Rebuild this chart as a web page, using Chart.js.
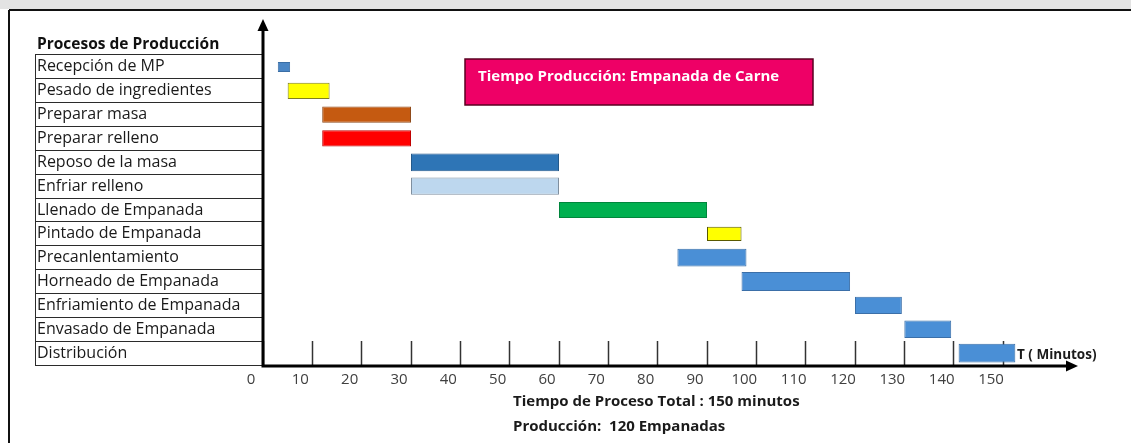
<!DOCTYPE html>
<html><head><meta charset="utf-8">
<script src="https://cdn.jsdelivr.net/npm/chart.js@4"></script>
<style>html,body{margin:0;padding:0;background:#fff;overflow:hidden}canvas{display:block}</style>
</head><body>
<canvas id="c" width="1131" height="443"></canvas>
<script>
// ---- data ----
const categories = ['Recepción de MP', 'Pesado de ingredientes', 'Preparar masa', 'Preparar relleno',
  'Reposo de la masa', 'Enfriar relleno', 'Llenado de Empanada', 'Pintado de Empanada',
  'Precanlentamiento', 'Horneado de Empanada', 'Enfriamiento de Empanada', 'Envasado de Empanada', 'Distribución'];
const startMin = [3, 5, 12, 12, 30, 30, 60, 90, 84, 97, 120, 130, 141];
const endMin = [5.5, 13.5, 30, 30, 60, 60, 90, 97, 98, 119, 129.5, 139.5, 152.5];
const xTickValues = [0, 10, 20, 30, 40, 50, 60, 70, 80, 90, 100, 110, 120, 130, 140, 150];
const chartTitle = 'Tiempo Producción: Empanada de Carne';
const tableHeader = 'Procesos de Producción';
const axisUnit = 'T ( Minutos)';
const footerLines = ['Tiempo de Proceso Total : 150 minutos', 'Producción:  120 Empanadas'];

// ---- styles ----
const fillColors = ['#4a86c5', '#ffff00', '#c55a11', '#ff0000', '#2e75b6', '#bdd7ee', '#00b050',
  '#ffff00', '#4a8fd6', '#4a8fd6', '#4a8fd6', '#4a8fd6', '#4a8fd6'];
const borderColors = ['#3a6ea5', '#7f7f20', '#8f4a1a', '#c00000', '#24598a', '#7f8f9f', '#00863c',
  '#595900', '#3b6fa8', '#3b6fa8', '#3b6fa8', '#3b6fa8', '#3b6fa8'];
const barFractions = [0.42, 0.68, 0.68, 0.68, 0.74, 0.72, 0.68, 0.6, 0.74, 0.8, 0.72, 0.74, 0.78];
const FONT = '"Open Sans"';

const datasets = categories.map((c, i) => ({
  label: c,
  data: categories.map((_, j) => j === i ? [startMin[i], endMin[i]] : null),
  backgroundColor: fillColors[i],
  borderColor: borderColors[i],
  borderWidth: 1,
  borderSkipped: false,
  barPercentage: barFractions[i],
  categoryPercentage: 1,
  grouped: false
}));

const deco = {
  id: 'deco',
  beforeDraw(chart) {
    const ctx = chart.ctx, W = chart.width, H = chart.height;
    ctx.save();
    ctx.fillStyle = '#ffffff';
    ctx.fillRect(0, 0, W, H);
    ctx.fillStyle = '#e3e3e3';
    ctx.fillRect(0, 0, W, 9);
    ctx.strokeStyle = '#111';
    ctx.lineWidth = 2;
    ctx.beginPath();
    ctx.moveTo(9, 10); ctx.lineTo(W, 10);
    ctx.moveTo(9, 10); ctx.lineTo(9, H);
    ctx.stroke();
    ctx.restore();
  },
  afterDraw(chart) {
    const ctx = chart.ctx, a = chart.chartArea;
    ctx.save();
    // table left edge
    ctx.strokeStyle = '#2b2b2b';
    ctx.lineWidth = 1;
    ctx.beginPath();
    ctx.moveTo(35.5, a.top); ctx.lineTo(35.5, a.bottom);
    ctx.stroke();
    // axes with arrows
    ctx.strokeStyle = '#000';
    ctx.fillStyle = '#000';
    ctx.lineWidth = 3;
    const ax = a.left, ay = a.bottom + 1;
    ctx.beginPath();
    ctx.moveTo(ax, ay + 1.5); ctx.lineTo(ax, 28);
    ctx.moveTo(ax - 1.5, ay); ctx.lineTo(a.right - 9, ay);
    ctx.stroke();
    ctx.beginPath();
    ctx.moveTo(ax, 19); ctx.lineTo(ax - 5.5, 31); ctx.lineTo(ax + 5.5, 31); ctx.closePath();
    ctx.fill();
    ctx.beginPath();
    ctx.moveTo(a.right + 1, ay); ctx.lineTo(a.right - 11, ay - 5.5); ctx.lineTo(a.right - 11, ay + 5.5); ctx.closePath();
    ctx.fill();
    // header
    ctx.fillStyle = '#111';
    ctx.textBaseline = 'middle';
    ctx.textAlign = 'left';
    ctx.font = 'bold 15.5px ' + FONT;
    ctx.fillText(tableHeader, 37, 45);
    // title box
    ctx.fillStyle = '#ee0066';
    ctx.fillRect(465, 59, 348, 46);
    ctx.strokeStyle = '#5a0020';
    ctx.lineWidth = 1.5;
    ctx.strokeRect(465, 59, 348, 46);
    ctx.fillStyle = '#ffffff';
    ctx.font = 'bold 15px ' + FONT;
    ctx.fillText(chartTitle, 478, 77);
    // axis unit
    ctx.fillStyle = '#1a1a1a';
    ctx.font = 'bold 13.5px ' + FONT;
    ctx.fillText(axisUnit, 1017, 355);
    // footer
    ctx.font = 'bold 15px ' + FONT;
    ctx.fillText(footerLines[0], 513, 402);
    ctx.fillText(footerLines[1], 513, 427);
    ctx.restore();
  }
};

new Chart(document.getElementById('c'), {
  type: 'bar',
  data: { labels: categories, datasets },
  options: {
    indexAxis: 'y',
    responsive: false,
    animation: false,
    layout: { padding: { left: 37, top: 55, right: 54, bottom: 0 } },
    plugins: { legend: { display: false }, tooltip: { enabled: false } },
    scales: {
      x: {
        type: 'linear', min: 0, max: 165,
        afterBuildTicks: s => { s.ticks = xTickValues.map(v => ({ value: v })); },
        afterFit: s => { s.height = 78; },
        grid: { drawOnChartArea: false, drawTicks: true, tickLength: -24, tickWidth: 1.5, tickColor: '#333' },
        border: { display: false },
        ticks: { padding: 30, labelOffset: -12, color: '#404040', font: { family: FONT, size: 15 }, maxRotation: 0, autoSkip: false }
      },
      y: {
        type: 'category', offset: true,
        afterFit: s => { s.width = 226; },
        grid: { offset: true, drawOnChartArea: false, drawTicks: true, tickLength: 228, tickWidth: 1, tickColor: '#2b2b2b' },
        border: { display: false },
        ticks: { crossAlign: 'far', padding: 0, color: '#1a1a1a', font: { family: FONT, size: 16 }, autoSkip: false }
      }
    }
  },
  plugins: [deco]
});
</script>
</body></html>
